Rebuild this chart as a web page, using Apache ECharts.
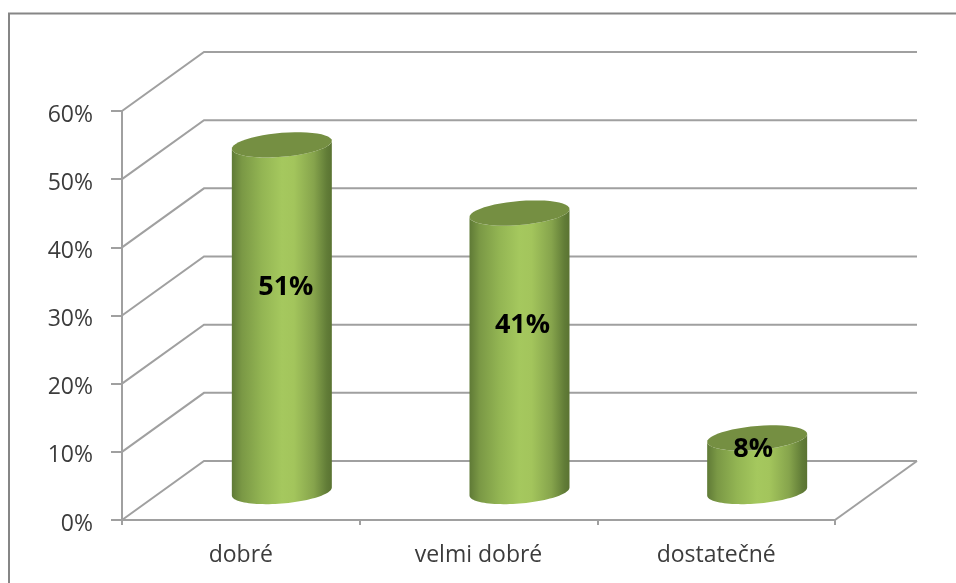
<!DOCTYPE html>
<html><head><meta charset="utf-8">
<style>html,body{margin:0;padding:0;background:#fff}#c{width:956px;height:583px}</style>
<script src="https://cdn.jsdelivr.net/npm/echarts@6/dist/echarts.min.js"></script>
</head><body><div id="c"></div>
<script>
const categories = ['dobré', 'velmi dobré', 'dostatečné'];
const values = [51, 41, 8];
const yTicks = [0, 10, 20, 30, 40, 50, 60];

const DEPTH_X = 82, DEPTH_Y = 59;
const BAR_RX = 50, BAR_RY = 12, BAR_SHEAR = 4;
const LABEL_DX = [4, 3, -4];
const GRAY = '#a0a0a0';
const TEXT = '#3c3c3c';
const chart = echarts.init(document.getElementById('c'));

function ringPoint(cx, cy, t) {
  return [cx + BAR_RX * Math.cos(t), cy + BAR_RY * Math.sin(t) - BAR_SHEAR * Math.cos(t)];
}
function arc(cx, cy, from, to) {
  const pts = [];
  for (let i = 0; i <= 48; i++) pts.push(ringPoint(cx, cy, from + (to - from) * i / 48));
  return pts;
}
function wallItem(params, api) {
  const y = api.coord([0, api.value(1)])[1];
  const cs = params.coordSys;
  const x0 = cs.x, x1 = cs.x + cs.width;
  const style = {stroke: GRAY, lineWidth: 2, fill: null};
  const children = [{type: 'polyline', shape: {points: [[x0, y], [x0 + DEPTH_X, y - DEPTH_Y], [x1 + DEPTH_X, y - DEPTH_Y]]}, style}];
  if (api.value(1) === 0) {
    children.push({type: 'line', shape: {x1: x1, y1: y, x2: x1 + DEPTH_X, y2: y - DEPTH_Y}, style});
  }
  return {type: 'group', children};
}
function barItem(params, api) {
  const idx = api.value(0), val = api.value(1);
  const base = api.coord([idx, 0]), top = api.coord([idx, val]);
  const cx = base[0] + DEPTH_X / 2, by = base[1] - DEPTH_Y / 2 + 1, ty = top[1] - DEPTH_Y / 2 + 2;
  const body = arc(cx, ty, Math.PI, 0).concat(arc(cx, by, 0, Math.PI));
  const lateral = new echarts.graphic.LinearGradient(0, 0, 1, 0, [
    {offset: 0, color: '#5f7a36'},
    {offset: 0.1, color: '#7a9845'},
    {offset: 0.3, color: '#93b553'},
    {offset: 0.5, color: '#a5c85e'},
    {offset: 0.62, color: '#a3c55c'},
    {offset: 0.82, color: '#86a44c'},
    {offset: 0.95, color: '#617c37'},
    {offset: 1, color: '#5a7332'}
  ]);
  const labelY = api.coord([idx, val * 0.55])[1] - 41;
  return {type: 'group', children: [
    {type: 'polygon', shape: {points: body}, style: {fill: lateral}},
    {type: 'polygon', shape: {points: arc(cx, ty, 0, Math.PI * 2)}, style: {fill: '#758f42'}},
    {type: 'text', style: {x: cx + LABEL_DX[idx], y: labelY, text: val + '%', align: 'center', verticalAlign: 'middle',
      font: 'bold 27px "Open Sans"', fill: '#000'}}
  ]};
}
chart.setOption({
  animation: false,
  backgroundColor: '#fff',
  graphic: [{type: 'polyline', silent: true, z: 0,
    shape: {points: [[9, 600], [9, 13.5], [975, 13.5]]},
    style: {stroke: '#868686', lineWidth: 2, fill: null}}],
  grid: {left: 122, width: 713, top: 111, height: 409},
  xAxis: {type: 'category', data: categories, boundaryGap: true,
    axisLine: {lineStyle: {color: GRAY, width: 2}},
    axisTick: {show: true, alignWithLabel: false, length: 5, lineStyle: {color: GRAY, width: 2}},
    axisLabel: {color: TEXT, fontFamily: 'Open Sans', fontSize: 23, margin: 24}},
  yAxis: {type: 'value', min: 0, max: 60, interval: 10,
    axisLine: {show: true, lineStyle: {color: GRAY, width: 2}},
    axisTick: {show: true, length: 11, lineStyle: {color: GRAY, width: 2}},
    splitLine: {show: false},
    axisLabel: {formatter: '{value}%', color: TEXT, fontFamily: 'Open Sans', fontSize: 23, margin: 29, verticalAlign: 'top', lineHeight: 8}},
  series: [
    {type: 'custom', name: 'walls', renderItem: wallItem, clip: false, silent: true, z: 1,
      encode: {x: 0, y: 1}, data: yTicks.map(t => [0, t])},
    {type: 'custom', name: 'bars', renderItem: barItem, clip: false, silent: true, z: 2,
      encode: {x: 0, y: 1}, data: values.map((v, i) => [i, v])}
  ]
});
</script></body></html>
